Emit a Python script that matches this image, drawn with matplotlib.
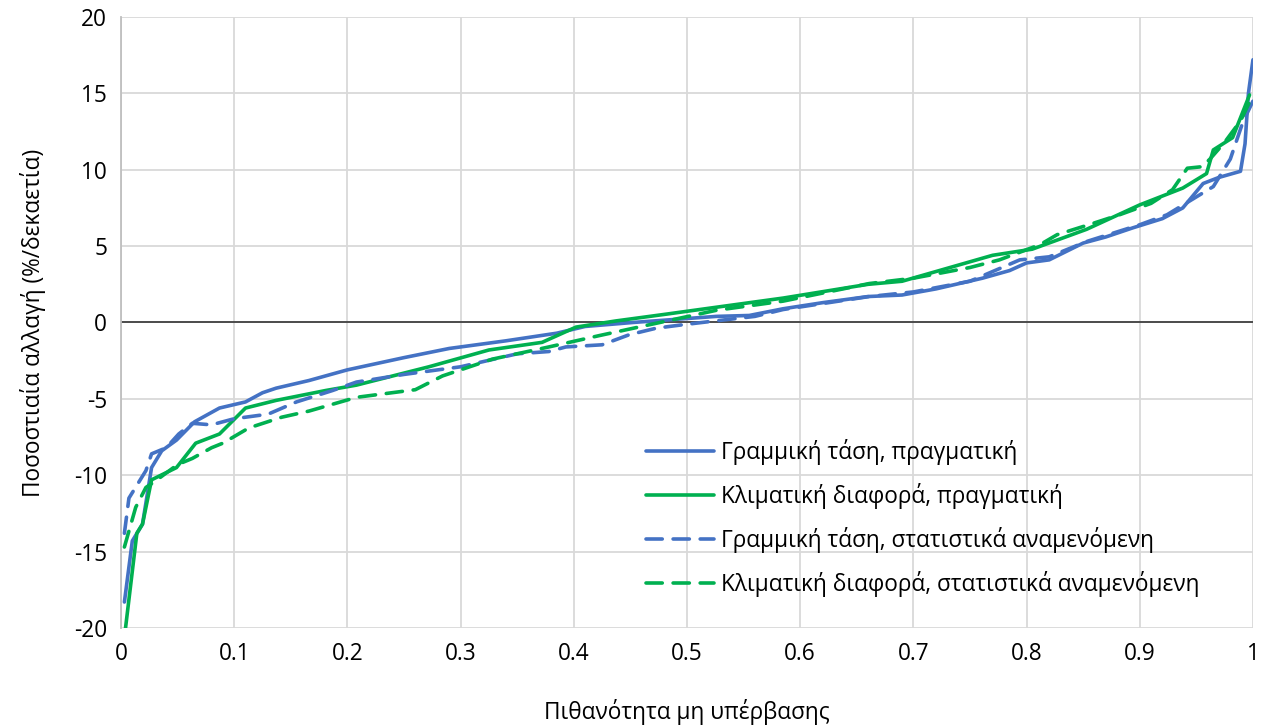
import matplotlib
matplotlib.use('Agg')
import matplotlib.pyplot as plt

plt.rcParams['font.family'] = ['Open Sans', 'DejaVu Sans']
plt.rcParams['axes.unicode_minus'] = False

# Linear trend, actual
lin_act_x = [0.003, 0.01, 0.019, 0.027, 0.036, 0.049, 0.065, 0.087, 0.11, 0.125, 0.137,
             0.166, 0.2, 0.25, 0.29, 0.34, 0.385, 0.41, 0.452, 0.526, 0.555, 0.585, 0.62,
             0.66, 0.69, 0.72, 0.761, 0.785, 0.8, 0.82, 0.85, 0.87, 0.894, 0.92, 0.938,
             0.956, 0.97, 0.989, 0.993, 0.996, 1.0]
lin_act_y = [-18.3, -14.3, -13.2, -9.5, -8.4, -7.7, -6.5, -5.6, -5.2, -4.6, -4.3,
             -3.8, -3.1, -2.3, -1.7, -1.2, -0.7, -0.26, 0.0, 0.4, 0.46, 0.9, 1.3,
             1.7, 1.8, 2.2, 2.9, 3.4, 3.9, 4.1, 5.2, 5.6, 6.2, 6.8, 7.5,
             9.1, 9.5, 9.9, 11.7, 15.0, 17.2]

# Climatic difference, actual
clim_act_x = [0.004, 0.014, 0.019, 0.027, 0.049, 0.066, 0.087, 0.11, 0.137, 0.181, 0.208,
              0.272, 0.325, 0.372, 0.402, 0.437, 0.482, 0.526, 0.585, 0.66, 0.69, 0.77,
              0.805, 0.853, 0.9, 0.938, 0.959, 0.965, 0.982, 0.997]
clim_act_y = [-20.0, -13.8, -13.2, -10.3, -9.5, -7.9, -7.3, -5.6, -5.1, -4.45, -4.1,
              -2.9, -1.8, -1.3, -0.3, 0.1, 0.55, 1.0, 1.6, 2.5, 2.7, 4.4,
              4.8, 6.1, 7.7, 8.8, 9.75, 11.3, 12.1, 14.9]

# Linear trend, statistically expected
lin_exp_x = [0.003, 0.007, 0.022, 0.027, 0.04, 0.051, 0.063, 0.08, 0.1, 0.13, 0.155,
             0.187, 0.208, 0.25, 0.3, 0.35, 0.378, 0.393, 0.425, 0.449, 0.473, 0.496,
             0.52, 0.56, 0.585, 0.661, 0.7, 0.75, 0.794, 0.82, 0.853, 0.9, 0.924,
             0.965, 0.98, 0.991, 1.0]
lin_exp_y = [-13.8, -11.5, -9.7, -8.6, -8.2, -7.3, -6.6, -6.7, -6.3, -6.0, -5.2,
             -4.45, -3.9, -3.4, -2.9, -2.05, -1.9, -1.6, -1.46, -0.8, -0.37, -0.15,
             0.06, 0.4, 0.85, 1.7, 2.0, 2.7, 4.1, 4.3, 5.3, 6.4, 7.05,
             8.9, 10.7, 13.1, 14.5]

# Climatic difference, statistically expected
clim_exp_x = [0.003, 0.013, 0.022, 0.03, 0.05, 0.063, 0.08, 0.09, 0.113, 0.142, 0.166,
              0.208, 0.26, 0.284, 0.328, 0.378, 0.423, 0.476, 0.526, 0.585, 0.661, 0.7,
              0.75, 0.776, 0.812, 0.827, 0.855, 0.882, 0.91, 0.929, 0.942, 0.955, 0.962,
              0.975, 0.989, 1.0]
clim_exp_y = [-14.7, -12.1, -10.8, -10.4, -9.3, -8.9, -8.2, -7.9, -6.9, -6.2, -5.8,
              -4.9, -4.4, -3.5, -2.4, -1.6, -0.85, 0.0, 0.8, 1.4, 2.55, 2.9,
              3.6, 4.1, 5.1, 5.75, 6.4, 7.05, 7.8, 8.7, 10.1, 10.2, 10.7,
              11.8, 13.2, 14.9]

labels = ['Γραμμική τάση, πραγματική',
          'Κλιματική διαφορά, πραγματική',
          'Γραμμική τάση, στατιστικά αναμενόμενη',
          'Κλιματική διαφορά, στατιστικά αναμενόμενη']

blue = '#4472C4'
green = '#00B050'
fs = 16.3
lw = 2.6

fig = plt.figure(figsize=(12.71, 7.27), dpi=100)
ax = fig.add_axes([0.0952, 0.1362, 0.8906, 0.8404])

ax.plot(lin_act_x, lin_act_y, color=blue, lw=lw, label=labels[0], solid_capstyle='round')
ax.plot(clim_act_x, clim_act_y, color=green, lw=lw, label=labels[1], solid_capstyle='round')
ax.plot(lin_exp_x, lin_exp_y, color=blue, lw=lw, ls=(0, (4.5, 3)), label=labels[2],
        dash_capstyle='round')
ax.plot(clim_exp_x, clim_exp_y, color=green, lw=lw, ls=(0, (4.5, 3)), label=labels[3],
        dash_capstyle='round')

ax.axhline(0, color='#404040', lw=1.3, zorder=1)

ax.set_xlim(0, 1)
ax.set_ylim(-20, 20)
ax.set_xticks([i / 10 for i in range(11)])
ax.set_xticklabels(['0', '0.1', '0.2', '0.3', '0.4', '0.5', '0.6', '0.7', '0.8', '0.9', '1'])
ax.set_yticks(range(-20, 21, 5))
ax.grid(True, color='#d9d9d9', lw=1.3, zorder=0)
ax.set_axisbelow(True)
for s in ['top', 'right', 'bottom']:
    ax.spines[s].set_visible(False)
ax.spines['left'].set_color('#bfbfbf')
ax.spines['left'].set_linewidth(1.3)
ax.tick_params(length=0, labelsize=fs, colors='black', pad=10)

ax.set_xlabel('Πιθανότητα μη υπέρβασης', fontsize=fs, labelpad=24)
ax.set_ylabel('Ποσοστιαία αλλαγή (%/δεκαετία)', fontsize=fs, labelpad=20)

ax.legend(loc='lower left', bbox_to_anchor=(0.446, 0.017), frameon=False, fontsize=fs,
          handlelength=3.0, handletextpad=0.3, labelspacing=0.8)

fig.savefig('out.png', dpi=100)
